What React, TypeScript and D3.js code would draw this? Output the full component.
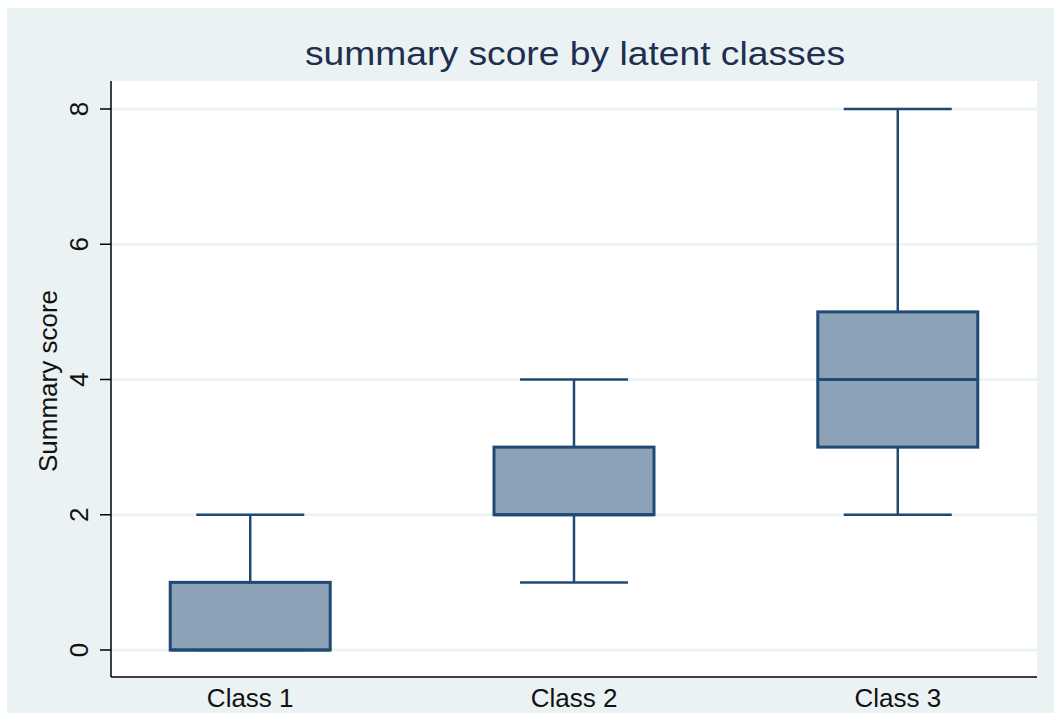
import React from "react";
import * as d3 from "d3";

const categories = ["Class 1", "Class 2", "Class 3"];
const mins = [0, 1, 2];
const q1s = [0, 2, 3];
const medians = [0, 2, 4];
const q3s = [1, 3, 5];
const maxs = [2, 4, 8];
const yTicks = [0, 2, 4, 6, 8];

const W = 1054, H = 713;
const plot = { left: 111, right: 1037, top: 81, bottom: 677 };

export default function App() {
  const x = d3.scalePoint<string>().domain(categories).range([plot.left, plot.right]).padding(0.43);
  const y = d3.scaleLinear().domain([0, 8]).range([650, 109]);
  const boxW = 160, capW = 108;
  const stroke = "#1F4A73";
  const fill = "#8DA2B6";
  const font = "Liberation Sans, Arial, sans-serif";
  return (
    <svg width={W} height={H} style={{ position: "absolute", left: 0, top: 0 }} fontFamily={font}>
      <rect x={0} y={0} width={W} height={H} fill="#ffffff" />
      <rect x={7} y={8} width={W - 7} height={H - 8} fill="#EAF2F3" />
      <rect x={plot.left} y={plot.top} width={plot.right - plot.left} height={plot.bottom - plot.top} fill="#ffffff" />
      {yTicks.map((t) => (
        <line key={"g" + t} x1={plot.left} x2={plot.right} y1={y(t)} y2={y(t)} stroke="#EAF2F3" strokeWidth={2.5} />
      ))}
      <text x={305} y={65} textLength={540} lengthAdjust="spacingAndGlyphs" fontSize={34} fill="#1E2F50">
        summary score by latent classes
      </text>
      {categories.map((c, i) => {
        const cx = x(c)!;
        return (
          <g key={c}>
            <line x1={cx} x2={cx} y1={y(q3s[i])} y2={y(maxs[i])} stroke={stroke} strokeWidth={2.5} />
            <line x1={cx} x2={cx} y1={y(q1s[i])} y2={y(mins[i])} stroke={stroke} strokeWidth={2.5} />
            <line x1={cx - capW / 2} x2={cx + capW / 2} y1={y(maxs[i])} y2={y(maxs[i])} stroke={stroke} strokeWidth={2.5} />
            <line x1={cx - capW / 2} x2={cx + capW / 2} y1={y(mins[i])} y2={y(mins[i])} stroke={stroke} strokeWidth={2.5} />
            <rect x={cx - boxW / 2} y={y(q3s[i])} width={boxW} height={y(q1s[i]) - y(q3s[i])} fill={fill} stroke={stroke} strokeWidth={3} />
            <line x1={cx - boxW / 2} x2={cx + boxW / 2} y1={y(medians[i])} y2={y(medians[i])} stroke={stroke} strokeWidth={3} />
            <text x={cx} y={707} textAnchor="middle" fontSize={26} fill="#111">{c}</text>
          </g>
        );
      })}
      <line x1={plot.left} x2={plot.left} y1={plot.top} y2={plot.bottom} stroke="#000" strokeWidth={1.5} />
      <line x1={plot.left} x2={plot.right} y1={plot.bottom} y2={plot.bottom} stroke="#000" strokeWidth={1.5} />
      {yTicks.map((t) => (
        <g key={"t" + t}>
          <line x1={plot.left - 11} x2={plot.left} y1={y(t)} y2={y(t)} stroke="#000" strokeWidth={1.5} />
          <text transform={`translate(88,${y(t)}) rotate(-90)`} textAnchor="middle" fontSize={26} fill="#111">{t}</text>
        </g>
      ))}
      <text transform={`translate(57,${381}) rotate(-90)`} textAnchor="middle" fontSize={26} fill="#111">Summary score</text>
    </svg>
  );
}
